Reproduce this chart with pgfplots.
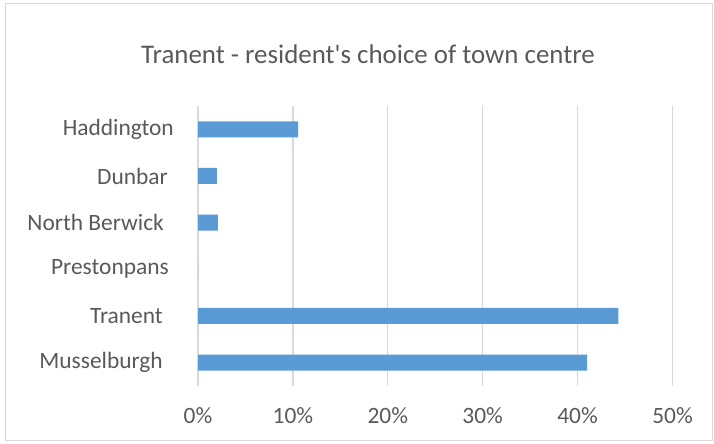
\documentclass[border=0pt]{standalone}
\usepackage{fontspec}
\setmainfont{Carlito}
\usepackage{pgfplots}
\pgfplotsset{compat=1.18}
\definecolor{bartxt}{HTML}{595959}
\definecolor{barblue}{HTML}{5B9BD5}
\definecolor{gridgray}{HTML}{D9D9D9}
\begin{document}
\begin{tikzpicture}[x=1bp,y=1bp]
\useasboundingbox (0,0) rectangle (714,444);
\draw[gridgray, line width=1bp] (5.5,3.5) rectangle (712.5,440.5);
\node[anchor=base, text=bartxt, font=\fontsize{27}{32}\selectfont, inner sep=0pt]
  at (368,444-63.3) {Tranent - resident\textquotesingle s choice of town centre};
\begin{axis}[
    at={(198bp,58bp)}, anchor=south west,
    scale only axis, width=474.5bp, height=280bp,
    xbar, bar width=16bp,
    xmin=0, xmax=50, ymin=-0.5, ymax=5.5,
    xtick={0,10,20,30,40,50},
    xticklabels={0\%,10\%,20\%,30\%,40\%,50\%},
    ytick={0,1,2,3,4,5},
    yticklabels={Musselburgh\hspace{11bp}\mbox{},Tranent\hspace{11bp}\mbox{},Prestonpans\hspace{5bp}\mbox{},
                 North Berwick\hspace{10bp}\mbox{},Dunbar\hspace{6bp}\mbox{},Haddington},
    axis line style={draw=none},
    major tick length=0pt,
    xmajorgrids, grid style={gridgray, line width=1.3bp},
    tick label style={text=bartxt, font=\fontsize{23.5}{28}\selectfont},
    xticklabel style={anchor=base, inner sep=0pt, yshift=-38bp},
    yticklabel style={anchor=east, inner sep=0pt, xshift=-24bp},
    clip=false,
]
\draw[gridgray, line width=1.3bp] (axis cs:0,-0.5) -- (axis cs:0,5.5);
\addplot[fill=barblue, draw=none] coordinates {
 (41.0,0) (44.3,1) (0,2) (2.1,3) (2.0,4) (10.55,5)};
\end{axis}
\end{tikzpicture}
\end{document}
